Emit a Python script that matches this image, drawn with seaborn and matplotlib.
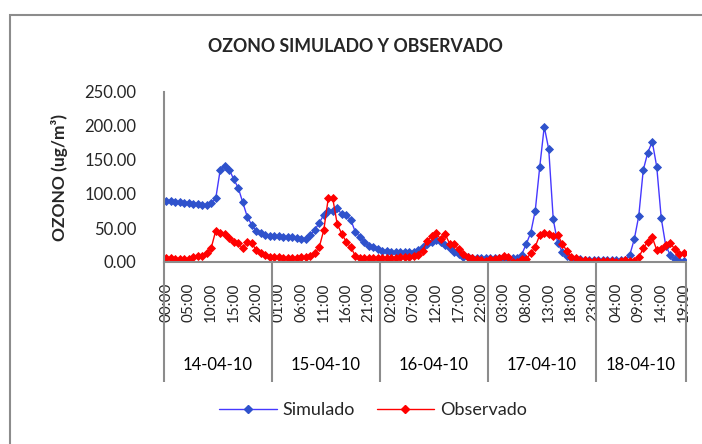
import matplotlib
matplotlib.use("Agg")
import matplotlib.pyplot as plt
import matplotlib.patches as mpatches
from matplotlib.lines import Line2D
import numpy as np
import pandas as pd
import seaborn as sns

# -------------- Data (hourly) --------------
dias = ["14-04-10", "15-04-10", "16-04-10", "17-04-10", "18-04-10"]
horas_por_dia = [24, 24, 24, 24, 20]

sim_14 = [89.7, 89.2, 88.7, 88.2, 87.5, 86.8, 86.0, 85.0, 84.0, 84.0, 86.3, 93.6,
          136.0, 141.0, 136.0, 121.6, 109.0, 87.7, 66.7, 54.4, 46.0, 42.0, 39.7, 38.7]
sim_15 = [38.2, 37.8, 37.3, 36.8, 36.3, 35.3, 34.3, 34.0, 39.7, 47.0, 57.8, 69.0,
          75.0, 75.5, 79.0, 70.0, 68.6, 62.0, 44.6, 37.3, 30.0, 24.0, 21.6, 19.1]
sim_16 = [16.7, 16.2, 15.2, 14.7, 14.7, 14.7, 14.7, 15.2, 17.6, 21.6, 26.5, 29.9,
          32.4, 29.9, 25.0, 20.0, 15.2, 11.3, 7.8, 6.9, 6.4, 6.4, 6.4, 6.4]
sim_17 = [6.5, 6.5, 6.5, 6.5, 6.5, 6.5, 6.5, 11.0, 26.5, 43.0, 75.5, 140.0,
          199.0, 165.7, 62.7, 27.5, 15.2, 8.3, 5.4, 4.4, 3.9, 3.4, 2.9, 2.5]
sim_18 = [2.5, 2.5, 2.5, 2.5, 2.5, 2.5, 2.9, 10.3, 33.3, 67.6, 135.3, 160.8,
          177.0, 140.0, 64.2, 24.0, 10.3, 3.9, 1.5, 1.0]

obs_14 = [5.4, 5.4, 4.9, 4.4, 3.9, 4.9, 7.8, 8.8, 8.8, 13.7, 21.0, 46.0,
          43.0, 41.2, 34.8, 29.9, 27.5, 20.0, 29.9, 27.5, 17.6, 12.7, 10.3, 7.8]
obs_15 = [7.2, 6.9, 6.4, 6.0, 6.4, 6.4, 6.9, 7.8, 8.5, 12.7, 22.0, 46.6,
          93.6, 93.6, 55.4, 41.5, 29.7, 21.7, 9.3, 6.4, 5.4, 5.4, 5.4, 5.4]
obs_16 = [5.4, 5.4, 5.4, 5.9, 6.9, 7.4, 7.8, 8.8, 10.3, 16.7, 31.4, 38.2,
          42.2, 33.3, 40.7, 26.5, 26.5, 18.6, 11.3, 7.8, 5.4, 4.4, 2.9, 2.0]
obs_17 = [3.9, 3.9, 5.4, 8.8, 6.9, 0.5, 0.5, 3.9, 4.4, 12.7, 22.5, 39.7,
          42.0, 41.2, 38.2, 39.7, 27.0, 16.2, 7.8, 5.4, 2.9, 2.9, 2.0, 2.0]
obs_18 = [2.0, 2.0, 2.0, 1.5, 0.5, 2.0, 2.9, 2.0, 2.0, 6.9, 20.0, 29.9,
          36.3, 17.6, 18.6, 25.0, 28.4, 18.6, 11.8, 12.7]

simulado = sim_14 + sim_15 + sim_16 + sim_17 + sim_18
observado = obs_14 + obs_15 + obs_16 + obs_17 + obs_18

n = len(simulado)
df = pd.DataFrame({"idx": np.arange(n), "Simulado": simulado, "Observado": observado})
horas = [f"{i % 24:02d}:00" for i in range(n)]

# -------------- Plot --------------
sns.set_style("white")
plt.rcParams["font.family"] = ["Lato", "DejaVu Sans"]

W, H = 702, 444
fig = plt.figure(figsize=(W / 100, H / 100), dpi=100)
ax = fig.add_axes([164 / W, 1 - 262 / H, 522 / W, 170 / H])

azul_linea = "#4638FF"
azul_marca = "#2F52CC"
rojo = "#FF0000"

sns.lineplot(data=df, x="idx", y="Simulado", ax=ax, color=azul_linea, lw=1.0,
             marker="D", markersize=3.8, markerfacecolor=azul_marca,
             markeredgecolor=azul_marca, markeredgewidth=0.6)
sns.lineplot(data=df, x="idx", y="Observado", ax=ax, color=rojo, lw=1.0,
             marker="D", markersize=3.8, markerfacecolor=rojo,
             markeredgecolor=rojo, markeredgewidth=0.6)

ax.set_xlim(-0.5, n - 0.5)
ax.set_ylim(0, 250)
ax.set_yticks([0, 50, 100, 150, 200, 250])
ax.set_yticklabels([f"{v:.2f}" for v in [0, 50, 100, 150, 200, 250]], fontsize=12)
ax.tick_params(axis="y", length=0, pad=20)

pos = list(range(0, n, 5))
ax.set_xticks(pos)
ax.set_xticklabels([horas[p] for p in pos], rotation=90, fontsize=11)
ax.tick_params(axis="x", length=0, pad=15)
ax.set_xlabel("")
ax.set_ylabel("")

gris = "#8C8C8C"
for s in ["top", "right"]:
    ax.spines[s].set_visible(False)
for s in ["left", "bottom"]:
    ax.spines[s].set_color(gris)
    ax.spines[s].set_linewidth(1.5)

# day separators and day labels under the axis
tr = ax.get_xaxis_transform()
bordes = np.concatenate([[0], np.cumsum(horas_por_dia)]) - 0.5
for b in bordes:
    ax.plot([b, b], [0, -120 / 170], transform=tr, color=gris, lw=1.5,
            clip_on=False, solid_capstyle="butt")
for k, dia in enumerate(dias):
    centro = (bordes[k] + bordes[k + 1]) / 2
    ax.text(centro, -103 / 170, dia, transform=tr, ha="center", va="center",
            fontsize=12, color="black")

# title and y label
fig.text(355 / W, 1 - 47 / H, "OZONO SIMULADO Y OBSERVADO", ha="center",
         va="center", fontsize=12.8, fontweight="bold")
fig.text(59 / W, 1 - 177 / H, "OZONO (ug/m³)", rotation=90, ha="center",
         va="center", fontsize=12.5, fontweight="bold")

# legend
handles = [
    Line2D([0], [0], color=azul_linea, lw=1.0, marker="D", markersize=3.8,
           markerfacecolor=azul_marca, markeredgecolor=azul_marca),
    Line2D([0], [0], color=rojo, lw=1.0, marker="D", markersize=3.8,
           markerfacecolor=rojo, markeredgecolor=rojo),
]
fig.legend(handles, ["Simulado", "Observado"], loc="center",
           bbox_to_anchor=(373 / W, 1 - 410 / H), ncol=2, frameon=False,
           fontsize=13, handlelength=3.2, handletextpad=0.3, columnspacing=1.2)

# outer chart border
fig.patches.append(mpatches.Rectangle((10 / W, -0.1), 1.2, 1.1 - 15 / H,
                                      transform=fig.transFigure, fill=False,
                                      edgecolor=gris, lw=1.5))

fig.savefig("out.png", dpi=100)
